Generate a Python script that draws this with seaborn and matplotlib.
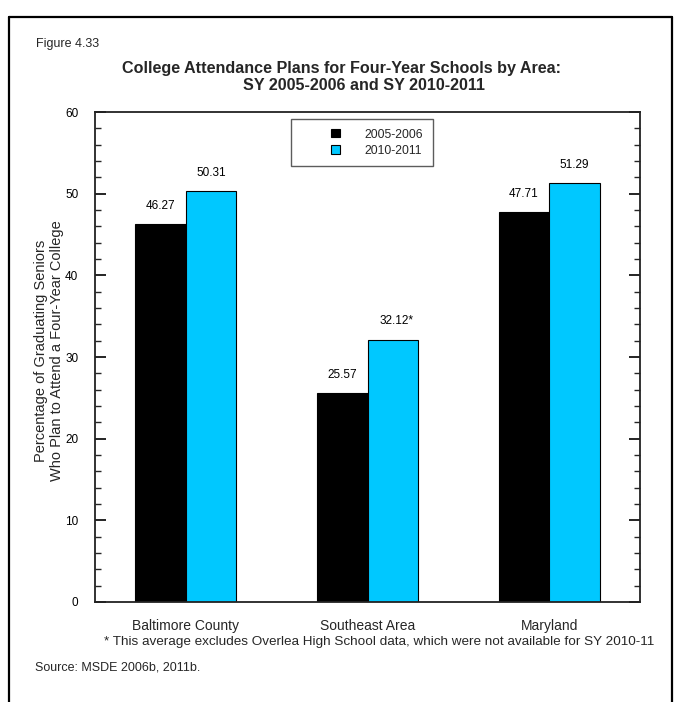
import matplotlib
matplotlib.use("Agg")
import matplotlib.pyplot as plt
import matplotlib.patches as mpatches
from matplotlib.lines import Line2D
from matplotlib.legend_handler import HandlerPatch
from matplotlib.ticker import MultipleLocator
import seaborn as sns
import pandas as pd

areas = ["Baltimore County", "Southeast Area", "Maryland"]
years = ["2005-2006", "2010-2011"]
values_2005 = [46.27, 25.57, 47.71]
values_2010 = [50.31, 32.12, 51.29]
label_marks_2010 = ["", "*", ""]
colors = ["#000000", "#00C8FF"]

sns.set_theme(style="white")
plt.rcParams["font.family"] = ["Liberation Sans", "DejaVu Sans"]

df = pd.DataFrame({
    "Area": areas * 2,
    "Year": [years[0]] * 3 + [years[1]] * 3,
    "Value": values_2005 + values_2010,
})

fig = plt.figure(figsize=(6.75, 7.02), dpi=100)
ax = fig.add_axes([95 / 675, 1 - 602 / 702, 545 / 675, 490 / 702])

sns.barplot(data=df, x="Area", y="Value", hue="Year", order=areas, hue_order=years,
            palette=colors, saturation=1, width=0.556, gap=0, edgecolor="black",
            linewidth=0.8, ax=ax, legend=False)

ax.set_xlim(-0.5, 2.5)
ax.set_ylim(0, 60)
ax.set_xlabel("")
ax.set_ylabel("")
ax.yaxis.set_major_locator(MultipleLocator(10))
ax.yaxis.set_minor_locator(MultipleLocator(2))
ax.tick_params(axis="y", which="major", direction="in", length=8, width=1.2,
               left=True, right=True, labelsize=8.5, pad=12, colors="black")
ax.tick_params(axis="y", which="minor", direction="in", length=4, width=1,
               left=True, right=True)
ax.tick_params(axis="x", length=0, labelsize=10, pad=12)
for s in ax.spines.values():
    s.set_visible(True)
    s.set_color("#222222")
    s.set_linewidth(1.3)

# value labels
for cont, vals, marks in zip(ax.containers, [values_2005, values_2010],
                             [[""] * 3, label_marks_2010]):
    for bar, v, m in zip(cont, vals, marks):
        xc = bar.get_x() + bar.get_width() / 2
        ax.annotate(f"{v:.2f}{m}", (xc, v), xytext=(3.0 if m else 0, 9),
                    textcoords="offset points", ha="center", va="bottom",
                    fontsize=8.5, color="black")

# legend
def square(legend, orig_handle, xdescent, ydescent, width, height, fontsize):
    side = 6.0
    return mpatches.Rectangle((-xdescent + width - side, -ydescent + (height - side) / 2),
                              side, side)

handles = [mpatches.Patch(facecolor=c, edgecolor="black", linewidth=0.8) for c in colors]
leg = ax.legend(handles, years, loc="upper left", bbox_to_anchor=(0.36, 0.986),
                fontsize=8.7, frameon=True, fancybox=False, borderpad=0.8,
                handlelength=3.2, handleheight=0.7, handletextpad=2.1,
                labelspacing=0.35, borderaxespad=0,
                handler_map={mpatches.Patch: HandlerPatch(patch_func=square)})
leg.get_frame().set_edgecolor("#333333")
leg.get_frame().set_linewidth(1.0)

# titles and texts
fig.text(36 / 675, 1 - 44 / 702, "Figure 4.33", fontsize=9, ha="left", va="center")
fig.text(341 / 675, 1 - 68 / 702, "College Attendance Plans for Four-Year Schools by Area:",
         fontsize=11.6, fontweight="bold", ha="center", va="center")
fig.text(364 / 675, 1 - 85 / 702, "SY 2005-2006 and SY 2010-2011",
         fontsize=11.6, fontweight="bold", ha="center", va="center")
fig.text(49 / 675, 1 - 351 / 702,
         "Percentage of Graduating Seniors\nWho Plan to Attend a Four-Year College",
         fontsize=10.5, rotation=90, ha="center", va="center", linespacing=1.15)
fig.text(104 / 675, 1 - 642 / 702,
         "* This average excludes Overlea High School data, which were not available for SY 2010-11",
         fontsize=9.7, ha="left", va="center")
fig.text(35 / 675, 1 - 667 / 702, "Source: MSDE 2006b, 2011b.",
         fontsize=9, ha="left", va="center")

# outer border
x0, x1, yt = 9 / 675, 672 / 675, 1 - 17 / 702
for xs, ys in [([x0, x0], [0, yt]), ([x0, x1], [yt, yt]), ([x1, x1], [yt, 0])]:
    fig.add_artist(Line2D(xs, ys, transform=fig.transFigure, color="black", linewidth=1.6))

fig.savefig("out.png", dpi=100)
